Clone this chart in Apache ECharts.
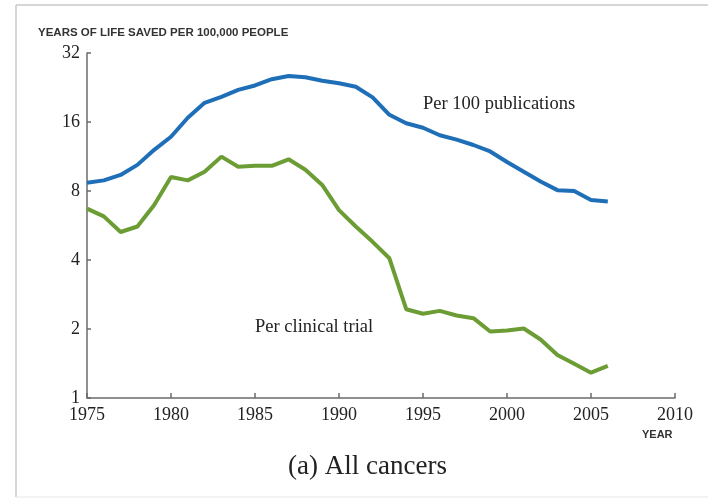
<!DOCTYPE html>
<html>
<head>
<meta charset="utf-8">
<title>All cancers</title>
<script src="https://cdn.jsdelivr.net/npm/echarts@6/dist/echarts.min.js"></script>
<style>
    html, body { margin: 0; padding: 0; background: #fff; }
    #chart { width: 717px; height: 498px; }
</style>
</head>
<body>
<div id="chart"></div>
<script>
// Years on the x axis
const years = [1975, 1976, 1977, 1978, 1979, 1980, 1981, 1982, 1983, 1984, 1985, 1986, 1987, 1988, 1989, 1990,
    1991, 1992, 1993, 1994, 1995, 1996, 1997, 1998, 1999, 2000, 2001, 2002, 2003, 2004, 2005, 2006];

// Years of life saved per 100,000 people
const perPublications = [8.7, 8.9, 9.4, 10.4, 12.1, 13.8, 16.7, 19.4, 20.6, 22.1, 23.1, 24.6, 25.4, 25.1, 24.2, 23.6,
    22.8, 20.5, 17.2, 15.8, 15.1, 14.0, 13.4, 12.7, 11.9, 10.7, 9.7, 8.8, 8.07, 8.0, 7.3, 7.2];
const perClinicalTrial = [6.7, 6.2, 5.3, 5.6, 6.95, 9.2, 8.9, 9.7, 11.3, 10.2, 10.3, 10.3, 11.0, 9.9, 8.5, 6.6,
    5.6, 4.8, 4.07, 2.44, 2.33, 2.40, 2.29, 2.23, 1.95, 1.97, 2.01, 1.80, 1.54, 1.41, 1.29, 1.38];

const yTicks = [1, 2, 4, 8, 16, 32];
const xTicks = [1975, 1980, 1985, 1990, 1995, 2000, 2005, 2010];

const chart = echarts.init(document.getElementById('chart'));

const axisColor = '#6b6b6b';
const serif = '"Liberation Serif", "DejaVu Serif", serif';
const sans = '"Liberation Sans", Arial, sans-serif';

const option = {
    animation: false,
    grid: { left: 87, top: 53, right: 42, bottom: 100 },
    xAxis: {
        type: 'value',
        min: xTicks[0],
        max: xTicks[xTicks.length - 1],
        interval: 5,
        axisLine: { lineStyle: { color: axisColor, width: 1.5 } },
        axisTick: { inside: true, length: 5, lineStyle: { color: axisColor, width: 1.5 } },
        splitLine: { show: false },
        axisLabel: {
            color: '#222',
            fontFamily: serif,
            fontSize: 18,
            margin: 8,
            formatter: v => String(v)
        }
    },
    yAxis: {
        type: 'log',
        logBase: 2,
        min: yTicks[0],
        max: yTicks[yTicks.length - 1],
        axisLine: { show: true, lineStyle: { color: axisColor, width: 1.5 } },
        axisTick: { show: true, inside: true, length: 4, lineStyle: { color: axisColor, width: 1.5 } },
        splitLine: { show: false },
        axisLabel: {
            color: '#222',
            fontFamily: serif,
            fontSize: 18,
            margin: 7,
            formatter: v => String(Math.round(v))
        }
    },
    series: [
        {
            name: 'Per 100 publications',
            type: 'line',
            data: years.map((y, i) => [y, perPublications[i]]),
            showSymbol: false,
            lineStyle: { color: '#1f6fb8', width: 4 },
            itemStyle: { color: '#1f6fb8' }
        },
        {
            name: 'Per clinical trial',
            type: 'line',
            data: years.map((y, i) => [y, perClinicalTrial[i]]),
            showSymbol: false,
            lineStyle: { color: '#6b9d34', width: 4 },
            itemStyle: { color: '#6b9d34' }
        }
    ],
    graphic: [
        // light frame around the figure
        { type: 'line', shape: { x1: 16, y1: 5, x2: 708, y2: 5 }, style: { stroke: '#c8c8c8', lineWidth: 1.5 } },
        { type: 'line', shape: { x1: 16, y1: 5, x2: 16, y2: 497 }, style: { stroke: '#c8c8c8', lineWidth: 1.5 } },
        { type: 'line', shape: { x1: 16, y1: 497, x2: 708, y2: 497 }, style: { stroke: '#e6e6e6', lineWidth: 1 } },
        {
            type: 'text', left: 38, top: 27,
            style: { text: 'YEARS OF LIFE SAVED PER 100,000 PEOPLE', font: 'bold 11.5px ' + sans, fill: '#333' }
        },
        {
            type: 'text', left: 423, top: 95,
            style: { text: 'Per 100 publications', font: '18.5px ' + serif, fill: '#222' }
        },
        {
            type: 'text', left: 255, top: 318,
            style: { text: 'Per clinical trial', font: '18.5px ' + serif, fill: '#222' }
        },
        {
            type: 'text', left: 642, top: 429,
            style: { text: 'YEAR', font: 'bold 11px ' + sans, fill: '#333' }
        },
        {
            type: 'text', left: 288, top: 453,
            style: { text: '(a) All cancers', font: '27px ' + serif, fill: '#222' }
        }
    ]
};

chart.setOption(option);
</script>
</body>
</html>
